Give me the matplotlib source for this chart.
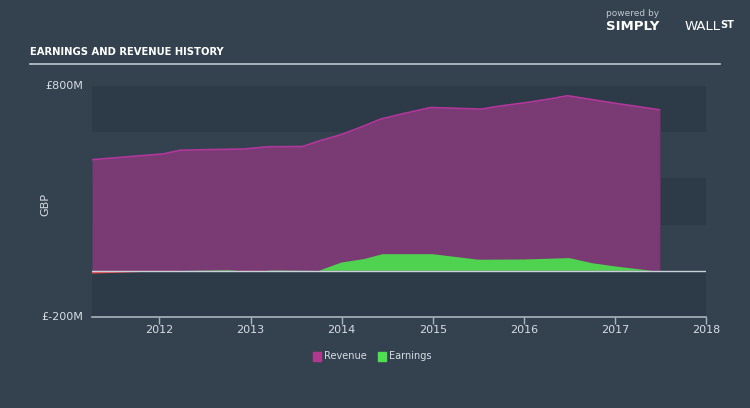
import matplotlib

matplotlib.use("Agg")
import matplotlib.pyplot as plt
from matplotlib.patches import Rectangle
from matplotlib.lines import Line2D
from matplotlib import font_manager

# Revenue / earnings history (GBP millions), dates as decimal years
rev_dates = [2011.26, 2011.6, 2012.04, 2012.23, 2012.6, 2012.92, 2013.19, 2013.57,
             2013.77, 2013.99, 2014.2, 2014.43, 2014.65, 2014.98, 2015.53, 2015.75,
             2016.04, 2016.3, 2016.48, 2016.99, 2017.49]
revenue = [481, 492, 506, 522, 525, 527, 537, 538,
           564, 589, 620, 657, 678, 707, 700, 714,
           729, 745, 758, 726, 697]

earn_dates = [2011.26, 2011.75, 2012.25, 2012.75, 2013.0, 2013.25, 2013.75, 2014.0,
              2014.25, 2014.45, 2015.0, 2015.25, 2015.5, 2016.0, 2016.5, 2016.75,
              2017.0, 2017.49]
earnings = [-12, -6, 0, 3, -3, 2, 0, 36,
            51, 72, 72, 60, 48, 49, 55, 33,
            19, -4]

years = [2012, 2013, 2014, 2015, 2016, 2017, 2018]

BG = "#344250"
BAND = "#2d3a48"
REV_FILL = "#7a3a74"
REV_LINE = "#b2379b"
EARN_FILL = "#4fd24f"
LOSS_FILL = "#e8474a"
TXT = "#d7dde3"

# pick a narrow face for the title if one is around
names = {f.name for f in font_manager.fontManager.ttflist}
title_family = "DejaVu Sans"
for cand in ("Liberation Sans Narrow", "DejaVu Sans Condensed"):
    if cand in names:
        title_family = cand
        break

fig = plt.figure(figsize=(7.5, 4.08), dpi=100)
fig.patch.set_facecolor(BG)
ax = fig.add_axes([92 / 750, 1 - 317 / 408, 614 / 750, 231 / 408])
ax.set_facecolor(BG)
ax.set_xlim(2011.26, 2018.0)
ax.set_ylim(-200, 800)

# alternating bands
for lo in (-200, 200, 600):
    ax.axhspan(lo, lo + 200, color=BAND, zorder=0, lw=0)

ax.fill_between(rev_dates, 0, revenue, color=REV_FILL, lw=0, zorder=2)
ax.plot(rev_dates, revenue, color=REV_LINE, lw=1.2, zorder=3)
ax.plot([rev_dates[-1]] * 2, [0, revenue[-1]], color="#5a3458", lw=0.8, zorder=3)

ax.fill_between(earn_dates, 0, earnings, where=[e >= 0 for e in earnings],
                interpolate=True, color=EARN_FILL, lw=0, zorder=4)
ax.fill_between(earn_dates, 0, earnings, where=[e < 0 for e in earnings],
                interpolate=True, color=LOSS_FILL, lw=0, zorder=4)
ax.axhline(0, color="#c8d0d8", lw=1.0, zorder=5)

for s in ("top", "right", "left"):
    ax.spines[s].set_visible(False)
ax.spines["bottom"].set_color("#aab4be")
ax.spines["bottom"].set_linewidth(1.2)

ax.set_xticks(years)
ax.set_xticklabels([str(y) for y in years])
ax.set_yticks([])
ax.tick_params(axis="x", colors="#aab4be", length=5, width=1, labelcolor=TXT,
               labelsize=8, pad=1)

ax.text(-0.015, 1.0, "£800M", transform=ax.transAxes, ha="right", va="center",
        color=TXT, fontsize=8)
ax.text(-0.015, 0.0, "£-200M", transform=ax.transAxes, ha="right", va="center",
        color=TXT, fontsize=8)
fig.text(45 / 750, 1 - 205 / 408, "GBP", rotation=90, ha="center", va="center",
         color=TXT, fontsize=8)

# title and rule
fig.text(30 / 750, 1 - 52 / 408, "EARNINGS AND REVENUE HISTORY", ha="left",
         va="center", color="white", fontsize=8, fontweight="bold",
         family=title_family, fontstretch="condensed")
fig.add_artist(Line2D([30 / 750, 720 / 750], [1 - 64 / 408] * 2,
                      color="#c0c8d0", lw=1.2))

# branding
fig.text(606 / 750, 1 - 14 / 408, "powered by", ha="left", va="center",
         color="#c0c8d0", fontsize=6.5)
fig.text(606 / 750, 1 - 26 / 408, "SIMPLY", ha="left", va="center",
         color="white", fontsize=9.5, fontweight="bold")
fig.text(685 / 750, 1 - 26 / 408, "WALL", ha="left", va="center",
         color="white", fontsize=9.5)
fig.text(720 / 750, 1 - 25 / 408, "ST", ha="left", va="center",
         color="white", fontsize=7, fontweight="bold")

# legend
for x0, col, lab in ((313, "#b0388f", "Revenue"), (378, "#4ee04e", "Earnings")):
    fig.add_artist(Rectangle((x0 / 750, 1 - 361 / 408), 8 / 750, 9 / 408,
                             color=col, transform=fig.transFigure))
    fig.text((x0 + 11) / 750, 1 - 356 / 408, lab, ha="left", va="center",
             color=TXT, fontsize=7)

fig.savefig("out.png", dpi=100, facecolor=BG)
